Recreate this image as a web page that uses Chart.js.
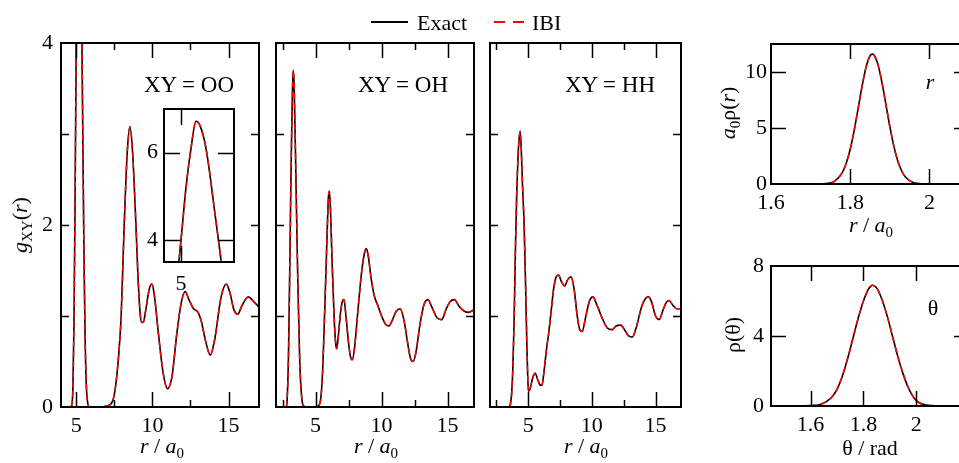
<!DOCTYPE html>
<html><head><meta charset="utf-8">
<script src="https://cdn.jsdelivr.net/npm/chart.js@4.4.1/dist/chart.umd.min.js"></script>
<style>
html,body{margin:0;padding:0;background:#fff;}
#wrap{position:relative;width:959px;height:463px;overflow:hidden;background:#fff;font-family:"Liberation Serif","Times New Roman",serif;color:#000;}
canvas{position:absolute;left:0;top:0;}
.t{position:absolute;white-space:nowrap;font-size:22px;line-height:22px;z-index:5;}
.a{font-size:23px;}
.c{transform:translateX(-50%);}
.rot{transform:translate(-50%,-50%) rotate(-90deg);}
.sub{font-size:15px;position:relative;top:5px;}
.leg{position:absolute;height:2px;z-index:5;}
</style></head><body><div id="wrap">
<canvas id="cOO" width="980" height="463"></canvas>
<canvas id="cIn" width="980" height="463"></canvas>
<canvas id="cOH" width="980" height="463"></canvas>
<canvas id="cHH" width="980" height="463"></canvas>
<canvas id="cRr" width="980" height="463"></canvas>
<canvas id="cRt" width="980" height="463"></canvas>

<div class="leg" style="left:371px;top:21px;width:37px;background:#000"></div>
<div class="t" style="left:417px;top:12px">Exact</div>
<div class="leg" style="left:494px;top:21px;width:30px;background:repeating-linear-gradient(to right,#f00 0 11px,transparent 11px 19px)"></div>
<div class="t" style="left:532px;top:12px">IBI</div>

<div class="t a" style="left:144px;top:74px">XY = OO</div>
<div class="t a" style="left:358px;top:74px">XY = OH</div>
<div class="t a" style="left:565px;top:74px">XY = HH</div>
<div class="t c" style="left:930px;top:71px"><i>r</i></div>
<div class="t c" style="left:933px;top:297px">θ</div>

<div class="t rot" style="left:21px;top:225px"><i>g</i><span class="sub">XY</span>(<i>r</i>)</div>
<div class="t rot" style="left:729px;top:113px"><i>a</i><span class="sub">0</span>ρ(<i>r</i>)</div>
<div class="t rot" style="left:733px;top:335px">ρ(θ)</div>

<div class="t c" style="left:162px;top:435px"><i>r</i> / <i>a</i><span class="sub">0</span></div>
<div class="t c" style="left:376px;top:435px"><i>r</i> / <i>a</i><span class="sub">0</span></div>
<div class="t c" style="left:586px;top:435px"><i>r</i> / <i>a</i><span class="sub">0</span></div>
<div class="t c" style="left:871px;top:214px"><i>r</i> / <i>a</i><span class="sub">0</span></div>
<div class="t c" style="left:870px;top:437px">θ / rad</div>
</div>
<script>
// ---------- data ----------
const ooR = [4.0, 4.6, 4.7, 4.78, 4.85, 4.92, 5.0, 5.05, 5.1, 5.15, 5.19, 5.25, 5.34, 5.42, 5.5, 5.58, 5.66, 5.75, 5.85, 6.5, 7.0, 7.4, 7.6, 7.8, 7.95, 8.15, 8.35, 8.53, 8.7, 8.92, 9.05, 9.2, 9.3, 9.4, 9.55, 9.8, 9.97, 10.15, 10.4, 10.7, 11.0, 11.3, 11.6, 11.9, 12.15, 12.4, 12.7, 13.0, 13.2, 13.5, 13.8, 14.1, 14.5, 14.85, 15.1, 15.35, 15.6, 15.9, 16.3, 16.7, 17.0];
const ooExact = [0, 0, 0.02, 0.2, 0.9, 2.2, 4.0, 5.2, 6.1, 6.72, 6.62, 6.1, 4.6, 3.2, 1.8, 0.8, 0.25, 0.05, 0, 0, 0.01, 0.07, 0.25, 0.6, 1.0, 2.0, 2.8, 3.08, 2.8, 2.0, 1.45, 1.02, 0.93, 0.93, 1.05, 1.3, 1.35, 1.2, 0.8, 0.38, 0.2, 0.35, 0.8, 1.15, 1.27, 1.18, 1.08, 1.04, 0.95, 0.72, 0.57, 0.75, 1.2, 1.35, 1.25, 1.07, 1.02, 1.12, 1.21, 1.15, 1.1];
const ooIBI = ooExact.slice(); // IBI curve coincides with the exact one at this resolution

const ohR = [2.0, 2.75, 2.85, 2.95, 3.05, 3.15, 3.25, 3.31, 3.38, 3.5, 3.65, 3.8, 3.95, 4.1, 4.3, 5.0, 5.3, 5.5, 5.7, 5.85, 5.97, 6.04, 6.12, 6.25, 6.4, 6.52, 6.6, 6.7, 6.9, 7.05, 7.15, 7.3, 7.5, 7.65, 7.78, 7.95, 8.2, 8.5, 8.75, 8.85, 9.0, 9.2, 9.45, 9.7, 10.0, 10.3, 10.56, 10.8, 11.1, 11.4, 11.7, 12.0, 12.2, 12.39, 12.6, 12.9, 13.2, 13.5, 13.8, 14.2, 14.55, 14.9, 15.2, 15.5, 15.9, 16.3, 16.6, 17.0];
const ohExact = [0, 0, 0.1, 0.6, 1.6, 2.7, 3.5, 3.7, 3.5, 2.6, 1.4, 0.5, 0.1, 0.01, 0, 0, 0.03, 0.3, 1.1, 1.8, 2.3, 2.37, 2.2, 1.6, 1.0, 0.7, 0.64, 0.75, 1.05, 1.17, 1.18, 1.0, 0.7, 0.55, 0.52, 0.65, 1.05, 1.5, 1.72, 1.74, 1.65, 1.42, 1.22, 1.12, 1.0, 0.91, 0.89, 0.95, 1.05, 1.08, 0.95, 0.68, 0.53, 0.5, 0.6, 0.9, 1.12, 1.18, 1.1, 0.98, 0.96, 1.08, 1.16, 1.18, 1.1, 1.05, 1.04, 1.07];
const ohIBI = ohExact.slice();

const hhR = [2.0, 3.5, 3.6, 3.7, 3.8, 3.9, 4.0, 4.1, 4.2, 4.3, 4.37, 4.45, 4.55, 4.68, 4.8, 4.9, 4.97, 5.03, 5.15, 5.35, 5.55, 5.75, 5.95, 6.08, 6.25, 6.45, 6.6, 6.8, 7.0, 7.2, 7.39, 7.6, 7.87, 8.1, 8.37, 8.6, 8.85, 9.05, 9.24, 9.5, 9.8, 10.08, 10.4, 10.8, 11.2, 11.6, 11.9, 12.26, 12.6, 12.9, 13.18, 13.5, 13.9, 14.2, 14.45, 14.7, 15.0, 15.28, 15.6, 15.85, 16.07, 16.35, 16.66, 17.0];
const hhExact = [0, 0, 0.03, 0.15, 0.45, 1.0, 1.75, 2.35, 2.75, 2.97, 3.03, 2.85, 2.45, 2.0, 1.3, 0.65, 0.3, 0.17, 0.2, 0.32, 0.37, 0.3, 0.24, 0.24, 0.4, 0.65, 0.8, 1.05, 1.3, 1.43, 1.45, 1.38, 1.33, 1.4, 1.43, 1.3, 1.0, 0.85, 0.83, 0.98, 1.16, 1.21, 1.12, 0.98, 0.87, 0.85, 0.89, 0.9, 0.84, 0.78, 0.77, 0.88, 1.1, 1.19, 1.21, 1.15, 1.0, 0.96, 1.07, 1.15, 1.17, 1.12, 1.08, 1.08];
const hhIBI = hhExact.slice();

const rhoR = [1.60, 1.70, 1.74, 1.76, 1.78, 1.79, 1.80, 1.81, 1.82, 1.83, 1.84, 1.85, 1.856, 1.86, 1.87, 1.88, 1.89, 1.90, 1.91, 1.92, 1.93, 1.94, 1.96, 1.98, 2.00, 2.10];
const rhoRExact = [0, 0, 0.04, 0.24, 1.02, 1.86, 3.1, 4.77, 6.73, 8.73, 10.42, 11.43, 11.6, 11.52, 10.68, 9.1, 7.14, 5.14, 3.41, 2.07, 1.16, 0.6, 0.12, 0.02, 0, 0];
const rhoRIBI = rhoRExact.slice();

const thT = [1.45, 1.60, 1.64, 1.68, 1.70, 1.72, 1.74, 1.76, 1.78, 1.80, 1.82, 1.834, 1.85, 1.87, 1.89, 1.91, 1.93, 1.95, 1.97, 1.99, 2.01, 2.04, 2.08, 2.20];
const thExact = [0, 0.02, 0.1, 0.5, 0.95, 1.7, 2.7, 3.85, 5.0, 6.0, 6.7, 6.9, 6.75, 6.1, 5.15, 4.0, 2.85, 1.85, 1.05, 0.5, 0.2, 0.05, 0.01, 0];
const thIBI = thExact.slice();

// ---------- tick labels / tick marks ----------
const gXLabels = [5, 10, 15];
const gXMajor = [5, 10, 15];
const gXMinor = [2.5, 7.5, 12.5];
const gYLabels = [0, 2, 4];
const gYMarks = [1, 2, 3];
const inXLabels = [5];
const inYLabels = [4, 6];
const rrXLabels = [1.6, 1.8, 2];
const rrYLabels = [0, 5, 10];
const rtXLabels = [1.6, 1.8, 2];
const rtYLabels = [0, 4, 8];

const FONT = '"Liberation Serif", "Times New Roman", serif';
const CW = 980, CH = 463, AXW = 50, AXH = 40;
function pts(xs, ys) { return xs.map((x, i) => ({ x: x, y: ys[i] })); }

const frameTicks = {
  id: 'frameTicks',
  afterDatasetsDraw(chart, args, o) {
    const ctx = chart.ctx, a = chart.chartArea, xs = chart.scales.x, ys = chart.scales.y;
    ctx.save();
    ctx.strokeStyle = '#000';
    ctx.lineWidth = 1.5;
    const tx = (vals, len) => (vals || []).filter(v => v > xs.min && v < xs.max).forEach(v => {
      const p = Math.round(xs.getPixelForValue(v)) + 0.5;
      ctx.beginPath();
      ctx.moveTo(p, a.bottom); ctx.lineTo(p, a.bottom - len);
      ctx.moveTo(p, a.top); ctx.lineTo(p, a.top + len);
      ctx.stroke();
    });
    const ty = (vals, len) => (vals || []).filter(v => v > ys.min && v < ys.max).forEach(v => {
      const p = Math.round(ys.getPixelForValue(v)) + 0.5;
      ctx.beginPath();
      ctx.moveTo(a.left, p); ctx.lineTo(a.left + len, p);
      ctx.moveTo(a.right, p); ctx.lineTo(a.right - len, p);
      ctx.stroke();
    });
    tx(o.xMajor, o.xMajLen); tx(o.xMinor, o.xMinLen); ty(o.yMarks, o.yLen);
    ctx.lineWidth = 2;
    ctx.strokeRect(a.left, a.top, a.right - a.left, a.bottom - a.top);
    ctx.restore();
  }
};

function makeChart(id, s) {
  const pad = { left: s.area[0] - AXW, top: s.area[1], right: CW - s.area[2], bottom: CH - s.area[3] - AXH };
  const tickFont = { family: FONT, size: 22 };
  return new Chart(document.getElementById(id), {
    type: 'line',
    data: { datasets: [
      { label: 'Exact', data: pts(s.xs, s.exact), borderColor: '#000', borderWidth: 1.6, pointRadius: 0, cubicInterpolationMode: 'monotone', fill: false, order: 2 },
      { label: 'IBI', data: pts(s.xs, s.ibi), borderColor: '#ff0000', borderWidth: 1.5, borderDash: [6, 4], pointRadius: 0, cubicInterpolationMode: 'monotone', fill: false, order: 1 }
    ] },
    options: {
      responsive: false, animation: false, devicePixelRatio: 1, events: [],
      layout: { padding: pad },
      plugins: { legend: { display: false }, tooltip: { enabled: false }, frameTicks: s.marks },
      scales: {
        x: {
          type: 'linear', min: s.xr[0], max: s.xr[1],
          afterFit: sc => { sc.height = AXH; },
          afterBuildTicks: sc => { sc.ticks = s.xl.map(v => ({ value: v })); },
          grid: { display: false, drawTicks: false }, border: { display: false },
          ticks: { display: s.xl.length > 0, autoSkip: false, maxRotation: 0, padding: s.xpad, color: '#000', font: tickFont, callback: v => String(v) }
        },
        y: {
          type: 'linear', min: s.yr[0], max: s.yr[1],
          afterFit: sc => { sc.width = AXW; },
          afterBuildTicks: sc => { sc.ticks = s.yl.map(v => ({ value: v })); },
          grid: { display: false, drawTicks: false }, border: { display: false },
          ticks: { display: s.yl.length > 0, autoSkip: false, padding: s.ypad, color: '#000', font: tickFont, callback: v => String(v) }
        }
      }
    },
    plugins: [frameTicks]
  });
}

const gMarks = { xMajor: gXMajor, xMajLen: 15, xMinor: gXMinor, xMinLen: 7, yMarks: gYMarks, yLen: 8 };

makeChart('cOO', { area: [61, 43, 259, 407], xr: [4, 17], yr: [0, 4], xs: ooR, exact: ooExact, ibi: ooIBI, xl: gXLabels, yl: gYLabels, xpad: 6, ypad: 8, marks: gMarks });
makeChart('cIn', { area: [164, 109, 234, 262], xr: [4.83, 5.53], yr: [3.5, 7], xs: ooR, exact: ooExact, ibi: ooIBI, xl: inXLabels, yl: inYLabels, xpad: 9, ypad: 6, marks: { xMajor: inXLabels, xMajLen: 16, yMarks: inYLabels, yLen: 16 } });
makeChart('cOH', { area: [276, 43, 474, 407], xr: [2, 17], yr: [0, 4], xs: ohR, exact: ohExact, ibi: ohIBI, xl: gXLabels, yl: [], xpad: 6, ypad: 8, marks: gMarks });
makeChart('cHH', { area: [490, 43, 681, 407], xr: [2, 17], yr: [0, 4], xs: hhR, exact: hhExact, ibi: hhIBI, xl: gXLabels, yl: [], xpad: 6, ypad: 8, marks: gMarks });
makeChart('cRr', { area: [771, 44, 969, 184], xr: [1.6, 2.1], yr: [0, 12.5], xs: rhoR, exact: rhoRExact, ibi: rhoRIBI, xl: rrXLabels, yl: rrYLabels, xpad: 6, ypad: 4, marks: { xMajor: [1.8, 2], xMajLen: 15, yMarks: [5, 10], yLen: 15 } });
makeChart('cRt', { area: [771, 266, 969, 406], xr: [1.45, 2.2], yr: [0, 8], xs: thT, exact: thExact, ibi: thIBI, xl: rtXLabels, yl: rtYLabels, xpad: 6, ypad: 7, marks: { xMajor: [1.6, 1.8, 2], xMajLen: 15, yMarks: [4], yLen: 15 } });
</script>
</body></html>
